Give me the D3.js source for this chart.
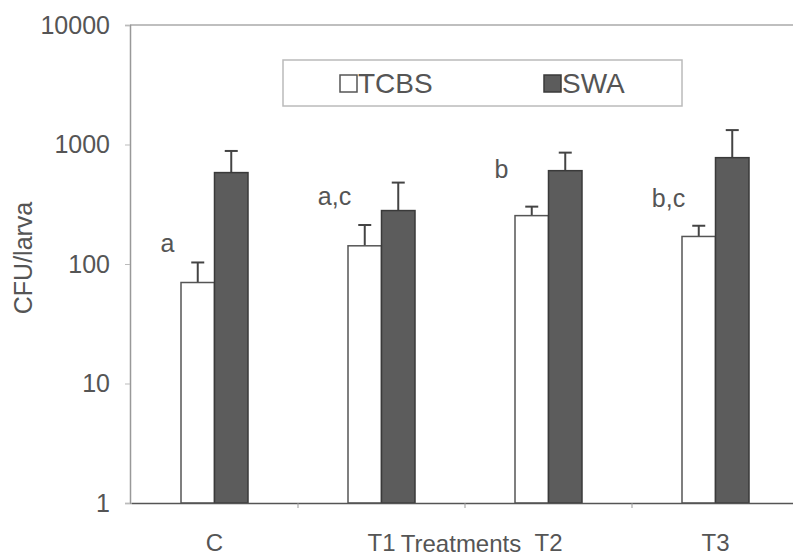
<!DOCTYPE html>
<html lang="en">
<head>
<meta charset="UTF-8">
<title>CFU per larva</title>
<style>
  body { margin: 0; background: #fff; }
  svg text { font-family: "Liberation Sans", Arial, sans-serif; }
</style>
</head>
<body>
<div id="chart"></div>
<script src="https://d3js.org/d3.v7.min.js"></script>
<script>
// data
const groups = ["C", "T1", "T2", "T3"];
const series = ["TCBS", "SWA"];
const tcbs = [70, 142, 254, 170];
const tcbsErr = [103, 212, 302, 209];   // top of error bar
const swa = [582, 280, 604, 776];
const swaErr = [883, 480, 855, 1320];
const letters = ["a", "a,c", "b", "b,c"];
const letterAt = [126, 312, 524, 300];  // y value where the letter sits
const yTicks = [1, 10, 100, 1000, 10000];

const W = 793, H = 557;
const margin = {top: 25, left: 131, bottom: 54};
const plotRight = 799;
const txt = "#555";

const svg = d3.select("#chart").append("svg")
  .attr("width", W).attr("height", H);

const y = d3.scaleLog().domain([1, 10000]).range([H - margin.bottom, margin.top]);
const x = d3.scaleBand().domain(groups).range([margin.left, plotRight]);
const xs = d3.scaleBand().domain(series).range([-33.5, 33.5]);

// frame (top line + left axis)
svg.append("line")
  .attr("x1", margin.left - 1).attr("x2", W)
  .attr("y1", y(10000)).attr("y2", y(10000))
  .attr("stroke", "#aaa").attr("stroke-width", 1.5);

const yAxis = svg.append("g")
  .attr("transform", "translate(" + (margin.left - 1) + ",0)")
  .call(d3.axisLeft(y).tickValues(yTicks).tickFormat(d3.format("d")).tickSize(5).tickPadding(15));
yAxis.select(".domain").attr("stroke", "#999").attr("stroke-width", 1.5);
yAxis.selectAll(".tick line").attr("stroke", "#bbb");
yAxis.selectAll("text").style("font-size", "25px").attr("fill", txt);

// bars
const rows = groups.map((g, i) => ({g, i}));
const gBars = svg.append("g").selectAll("g").data(rows).join("g")
  .attr("transform", d => "translate(" + (x(d.g) + x.bandwidth() / 2) + ",0)");

function errBar(sel, key, vals, errs) {
  const cx = xs(key) + xs.bandwidth() / 2;
  sel.append("line")
    .attr("x1", cx).attr("x2", cx)
    .attr("y1", d => y(vals[d.i])).attr("y2", d => y(errs[d.i]))
    .attr("stroke", "#444").attr("stroke-width", 2);
  sel.append("line")
    .attr("x1", cx - 6.5).attr("x2", cx + 6.5)
    .attr("y1", d => y(errs[d.i])).attr("y2", d => y(errs[d.i]))
    .attr("stroke", "#444").attr("stroke-width", 2);
}
errBar(gBars, "TCBS", tcbs, tcbsErr);
errBar(gBars, "SWA", swa, swaErr);

gBars.append("rect")
  .attr("x", xs("TCBS")).attr("width", xs.bandwidth())
  .attr("y", d => y(tcbs[d.i])).attr("height", d => y(1) - y(tcbs[d.i]))
  .attr("fill", "#fff").attr("stroke", "#555").attr("stroke-width", 1.5);

gBars.append("rect")
  .attr("x", xs("SWA")).attr("width", xs.bandwidth())
  .attr("y", d => y(swa[d.i])).attr("height", d => y(1) - y(swa[d.i]))
  .attr("fill", "#5c5c5c").attr("stroke", "#3a3a3a").attr("stroke-width", 1.5);

gBars.append("text")
  .attr("x", -47).attr("y", d => y(letterAt[d.i]))
  .attr("text-anchor", "middle")
  .style("font-size", "25px").attr("fill", txt)
  .text(d => letters[d.i]);

// x axis
const xAxis = svg.append("g")
  .attr("transform", "translate(0," + y(1) + ")")
  .call(d3.axisBottom(x).tickSize(0).tickPadding(31));
xAxis.select(".domain").attr("stroke", "#555").attr("stroke-width", 1.5);
xAxis.selectAll("text").style("font-size", "24px").attr("fill", txt);
// small ticks at band boundaries
xAxis.selectAll(".sep").data(groups.slice(1)).join("line")
  .attr("x1", d => x(d)).attr("x2", d => x(d))
  .attr("y1", 0).attr("y2", 5).attr("stroke", "#999");

svg.append("text")
  .attr("x", (margin.left + plotRight) / 2 - 4).attr("y", y(1) + 49)
  .attr("text-anchor", "middle").style("font-size", "24px").attr("fill", txt)
  .text("Treatments");

svg.append("text")
  .attr("transform", "translate(32," + 258 + ") rotate(-90)")
  .attr("text-anchor", "middle").style("font-size", "25px").attr("fill", txt)
  .text("CFU/larva");

// legend
const leg = svg.append("g").attr("transform", "translate(283,60)");
leg.append("rect").attr("width", 399).attr("height", 46)
  .attr("fill", "#fff").attr("stroke", "#bbb").attr("stroke-width", 1.5);
const legX = d3.scaleBand().domain(series).range([57, 57 + 2 * 204]);
const li = leg.selectAll(".li").data(series).join("g")
  .attr("transform", d => "translate(" + legX(d) + ",0)");
li.append("rect").attr("x", 0).attr("y", 15).attr("width", 17).attr("height", 17)
  .attr("fill", d => d === "TCBS" ? "#fff" : "#5c5c5c")
  .attr("stroke", d => d === "TCBS" ? "#555" : "#3a3a3a").attr("stroke-width", 1.5);
li.append("text").attr("x", 18).attr("y", 33)
  .style("font-size", "28px").attr("fill", txt).text(d => d);
</script>
</body>
</html>
